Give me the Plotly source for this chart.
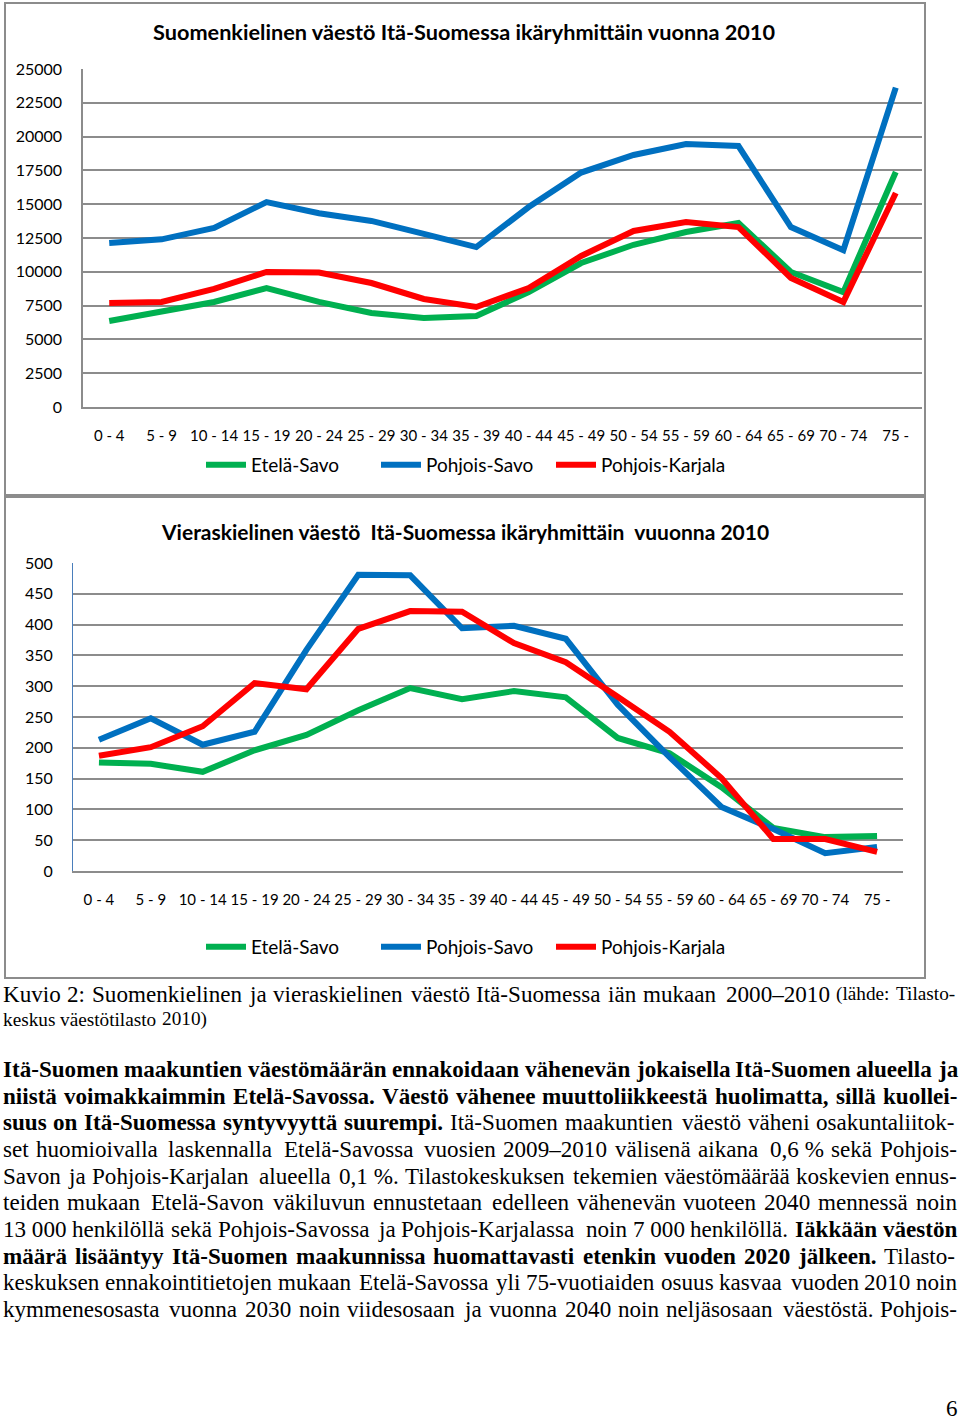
import plotly.graph_objects as go

# ---------------- data ----------------
age_groups = ["0 - 4", "5 - 9", "10 - 14", "15 - 19", "20 - 24", "25 - 29", "30 - 34", "35 - 39",
              "40 - 44", "45 - 49", "50 - 54", "55 - 59", "60 - 64", "65 - 69", "70 - 74", "75 -"]
series_names = ["Etelä-Savo", "Pohjois-Savo", "Pohjois-Karjala"]
series_colors = ["#00B050", "#0070C0", "#FF0000"]

fi_etela_savo = [6360, 7030, 7770, 8800, 7770, 6950, 6580, 6730, 8500, 10650, 12000, 12940, 13610, 9990, 8500, 17380]
fi_pohjois_savo = [12130, 12400, 13240, 15160, 14330, 13760, 12800, 11830, 14790, 17340, 18640, 19450, 19300, 13310, 11600, 23620]
fi_pohjois_karjala = [7690, 7770, 8730, 9990, 9950, 9170, 7990, 7400, 8800, 11170, 13020, 13680, 13310, 9540, 7770, 15830]

fl_etela_savo = [176, 174, 161, 196, 221, 261, 297, 279, 292, 282, 216, 191, 136, 70, 55, 57]
fl_pohjois_savo = [213, 248, 205, 226, 359, 481, 480, 394, 398, 377, 270, 185, 104, 68, 29, 39]
fl_pohjois_karjala = [187, 201, 235, 305, 295, 393, 422, 421, 370, 339, 283, 226, 151, 52, 52, 31]

title1 = "Suomenkielinen väestö Itä-Suomessa ikäryhmittäin vuonna 2010"
title2 = "Vieraskielinen väestö\u00a0 Itä-Suomessa ikäryhmittäin\u00a0 vuuonna 2010"

# text lines: list of segments (text, bold, size_pt)
caption_lines = [
    ([("Kuvio 2: Suomenkielinen ja vieraskielinen väestö Itä-Suomessa iän mukaan 2000–2010", False, 12),
      ("(lähde: Tilasto-", False, 10)], True),
    ([("keskus väestötilasto 2010)", False, 10)], False),
]
body_lines = [
    ([("Itä-Suomen maakuntien väestömäärän ennakoidaan vähenevän jokaisella Itä-Suomen alueella ja", True, 12)], True),
    ([("niistä voimakkaimmin Etelä-Savossa. Väestö vähenee muuttoliikkeestä huolimatta, sillä kuollei-", True, 12)], True),
    ([("suus on Itä-Suomessa syntyvyyttä suurempi.", True, 12),
      ("Itä-Suomen maakuntien väestö väheni osakuntaliitok-", False, 12)], True),
    ([("set huomioivalla laskennalla Etelä-Savossa vuosien 2009–2010 välisenä aikana 0,6\u00a0% sekä Pohjois-", False, 12)], True),
    ([("Savon ja Pohjois-Karjalan alueella 0,1\u00a0%. Tilastokeskuksen tekemien väestömäärää koskevien ennus-", False, 12)], True),
    ([("teiden mukaan Etelä-Savon väkiluvun ennustetaan edelleen vähenevän vuoteen 2040 mennessä noin", False, 12)], True),
    ([("13\u00a0000 henkilöllä sekä Pohjois-Savossa ja Pohjois-Karjalassa noin 7\u00a0000 henkilöllä.", False, 12),
      ("Iäkkään väestön", True, 12)], True),
    ([("määrä lisääntyy Itä-Suomen maakunnissa huomattavasti etenkin vuoden 2020 jälkeen.", True, 12),
      ("Tilasto-", False, 12)], True),
    ([("keskuksen ennakointitietojen mukaan Etelä-Savossa yli 75-vuotiaiden osuus kasvaa vuoden 2010 noin", False, 12)], True),
    ([("kymmenesosasta vuonna 2030 noin viidesosaan ja vuonna 2040 noin neljäsosaan väestöstä. Pohjois-", False, 12)], True),
]
page_number = "6"

# ---------------- figure ----------------
W, H = 960, 1420
def px(x): return x / W
def py(y): return 1 - y / H

fig = go.Figure()
chart_font = "Lato, Open Sans, sans-serif"

for name, color, vals in zip(series_names, series_colors, [fi_etela_savo, fi_pohjois_savo, fi_pohjois_karjala]):
    fig.add_trace(go.Scatter(x=age_groups, y=vals, name=name, mode="lines",
                             line=dict(color=color, width=6), xaxis="x", yaxis="y", legend="legend"))
for name, color, vals in zip(series_names, series_colors, [fl_etela_savo, fl_pohjois_savo, fl_pohjois_karjala]):
    fig.add_trace(go.Scatter(x=age_groups, y=vals, name=name, mode="lines",
                             line=dict(color=color, width=6), xaxis="x2", yaxis="y2", legend="legend2"))

grid = "#8c8c8c"
ytickfont = dict(family=chart_font, size=16, color="black")
xtickfont = dict(family=chart_font, size=15, color="black")
common_x = dict(type="category", range=[-0.5, 15.5], showgrid=False, showline=True, linecolor=grid,
                linewidth=1.5, tickfont=xtickfont, ticks="", tickangle=0, ticklabelstandoff=14,
                fixedrange=True, automargin=False)
legend_common = dict(orientation="h", x=px(201), xanchor="left", yanchor="middle",
                     entrywidth=120, entrywidthmode="pixels", itemwidth=40,
                     font=dict(family=chart_font, size=19, color="black"), bgcolor="rgba(0,0,0,0)")
fig.update_layout(
    width=W, height=H, margin=dict(l=0, r=0, t=0, b=0, pad=0, autoexpand=False),
    paper_bgcolor="white", plot_bgcolor="white", showlegend=True,
    xaxis=dict(domain=[px(83), px(922)], anchor="y", **common_x),
    yaxis=dict(domain=[py(407), py(69)], anchor="x", range=[0, 25000], dtick=2500, tickformat="d",
               showgrid=True, gridcolor=grid, gridwidth=1.5, showline=True, linecolor=grid, linewidth=1.5,
               zeroline=False, tickfont=ytickfont, ticklabelstandoff=16, automargin=False, fixedrange=True),
    xaxis2=dict(domain=[px(73), px(903)], anchor="y2", **common_x),
    yaxis2=dict(domain=[py(871), py(563)], anchor="x2", range=[0, 500], dtick=50, tickformat="d",
                showgrid=True, gridcolor=grid, gridwidth=1.5, showline=True, linecolor="#4a7ebb", linewidth=1,
                zeroline=False, tickfont=ytickfont, ticklabelstandoff=16, automargin=False, fixedrange=True),
    legend=dict(y=py(465), **legend_common),
    legend2=dict(y=py(947), **legend_common),
)

# chart borders
for y0, y1 in [(3, 495), (497, 978)]:
    fig.add_shape(type="rect", xref="paper", yref="paper", x0=px(5), x1=px(925), y0=py(y1), y1=py(y0),
                  line=dict(color=grid, width=2), fillcolor="rgba(0,0,0,0)", layer="below")

# chart titles
fig.add_annotation(text="<b>" + title1 + "</b>", xref="paper", yref="paper", x=px(464), y=py(32),
                   xanchor="center", yanchor="middle", showarrow=False,
                   font=dict(family=chart_font, size=21.7, color="black"))
fig.add_annotation(text="<b>" + title2 + "</b>", xref="paper", yref="paper", x=px(465), y=py(532),
                   xanchor="center", yanchor="middle", showarrow=False,
                   font=dict(family=chart_font, size=21, color="black"))

# ---------------- justified serif text ----------------
def table(spec):
    d = {}
    for part in spec.split():
        chars, w = part.rsplit("=", 1)
        for c in chars:
            d[c] = int(w)
    return d

roman = table("abdghknopquvxyöÖ0123456789–=500 ceäz=444 fr()-=333 ijlt:=278 m=778 s=389 w=722 "
              "AÄDGHKNOQUVXY=722 BCR=667 EL=611 FPS=556 I=333 J=389 M=889 T=611 W=944 Z=611 %=833 ,.=250")
bold = table("abäöegovxy0123456789–=500 dhknpqu=556 cez=444 fjt()-:=333 il=278 m=833 r=444 s=389 w=722 "
             "AÄDNUVXY=722 B=667 C=722 E=667 F=611 GHKOÖQ=778 I=389 J=500 L=667 M=944 P=611 R=722 S=556 T=667 W=1000 Z=667 %=1000 ,.=250")
PT = 23.1 / 12.0

def width(word, b, size):
    t = bold if b else roman
    return sum(t.get(c, 250 if c in " \u00a0" else 500) for c in word) * size / 1000.0

def place_lines(lines, y_start, dy):
    for i, (segs, justify) in enumerate(lines):
        tokens = []
        for text, b, pt in segs:
            for w in text.split(" "):
                tokens.append((w, b, pt * PT))
        widths = [width(w, b, s) for w, b, s in tokens]
        L, R = 3, 957
        if justify and len(tokens) > 1:
            gap = (R - L - sum(widths)) / (len(tokens) - 1)
        else:
            gap = 0.25 * tokens[0][2]
        x = L
        y = y_start + i * dy
        for (w, b, s), wd in zip(tokens, widths):
            txt = "<b>" + w + "</b>" if b else w
            fig.add_annotation(text=txt, xref="paper", yref="paper", x=px(x), y=py(y),
                               xanchor="left", yanchor="middle", showarrow=False,
                               borderpad=0, borderwidth=0,
                               font=dict(family="Liberation Serif, Times New Roman, serif", size=s, color="black"))
            x += wd + gap

place_lines(caption_lines, 994, 25)
place_lines(body_lines, 1069, 26.65)

fig.add_annotation(text=page_number, xref="paper", yref="paper", x=px(958), y=py(1408),
                   xanchor="right", yanchor="middle", showarrow=False, borderpad=0, borderwidth=0,
                   font=dict(family="Liberation Serif, serif", size=23, color="black"))

fig.write_html("out.html", config={"displayModeBar": False},
               post_script="document.body.style.margin='0';")
